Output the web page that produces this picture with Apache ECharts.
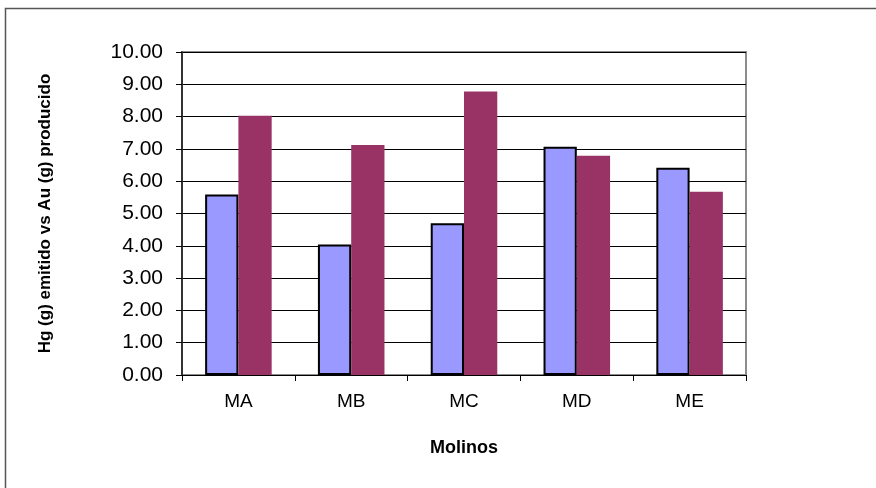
<!DOCTYPE html>
<html>
<head>
<meta charset="utf-8">
<script src="https://cdn.jsdelivr.net/npm/echarts@6/dist/echarts.min.js"></script>
<style>
  html, body { margin: 0; padding: 0; background: #ffffff; }
  #chart { width: 876px; height: 488px; }
</style>
</head>
<body>
<div id="chart"></div>
<script>
// Mills and the two measured quantities per mill
const categories = ['MA', 'MB', 'MC', 'MD', 'ME'];
const hgEmitted = [5.59, 4.04, 4.70, 7.07, 6.42];
const auProduced = [8.03, 7.12, 8.78, 6.79, 5.67];
const yTicks = { min: 0, max: 10, interval: 1 };

const FONT = '"Liberation Sans", Arial, sans-serif';

const chart = echarts.init(document.getElementById('chart'), null, { renderer: 'canvas' });

chart.setOption({
  backgroundColor: '#ffffff',
  animation: false,
  graphic: [{
    type: 'rect',
    shape: { x: 5.5, y: 8.5, width: 900, height: 500 },
    style: { fill: 'none', stroke: '#555555', lineWidth: 1.5 },
    z: -1
  }],
  grid: {
    left: 182, right: 130, top: 52, bottom: 113,
    show: true, borderColor: '#8c8c8c', borderWidth: 2, backgroundColor: 'transparent'
  },
  xAxis: {
    type: 'category',
    data: categories,
    name: 'Molinos',
    nameLocation: 'middle',
    nameGap: 64,
    nameTextStyle: { fontFamily: FONT, fontSize: 18, fontWeight: 'bold', color: '#000' },
    axisLine: { lineStyle: { color: '#000', width: 1 } },
    axisTick: { show: true, alignWithLabel: false, length: 6, lineStyle: { color: '#000' } },
    axisLabel: { margin: 17, fontFamily: FONT, fontSize: 19, color: '#000' }
  },
  yAxis: {
    type: 'value',
    min: yTicks.min, max: yTicks.max, interval: yTicks.interval,
    name: 'Hg (g) emitido vs Au (g) producido',
    nameLocation: 'middle',
    nameGap: 128,
    nameTextStyle: { fontFamily: FONT, fontSize: 17, fontWeight: 'bold', color: '#000' },
    axisLine: { show: true, lineStyle: { color: '#333', width: 2 } },
    axisTick: { show: true, length: 6, lineStyle: { color: '#000' } },
    axisLabel: {
      margin: 19, fontFamily: FONT, fontSize: 21, color: '#000',
      formatter: v => v.toFixed(2)
    },
    splitLine: { show: true, lineStyle: { color: '#000', width: 1 } }
  },
  series: [
    {
      type: 'bar',
      data: hgEmitted,
      barGap: '0%',
      barCategoryGap: '41%',
      itemStyle: { color: '#9999ff', borderColor: '#000', borderWidth: 2 }
    },
    {
      type: 'bar',
      data: auProduced,
      itemStyle: { color: '#993366' }
    }
  ]
});
</script>
</body>
</html>
